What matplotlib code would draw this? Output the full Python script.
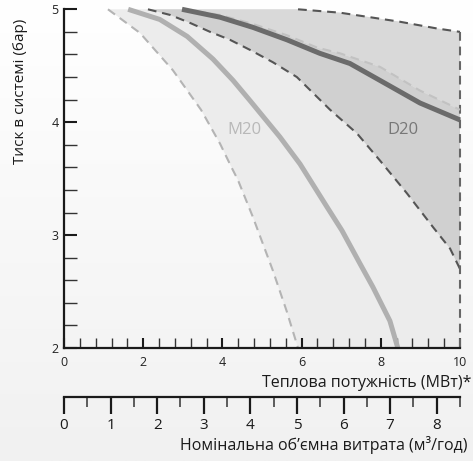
import matplotlib
matplotlib.use("Agg")
import matplotlib.pyplot as plt
import numpy as np
from matplotlib.ticker import MultipleLocator

plt.rcParams['font.family'] = ['Open Sans', 'DejaVu Sans']

# ---- data (x: thermal power MW, y: system pressure bar) ----
m20_min_x = [1.11, 1.92, 2.75, 3.46, 3.94, 4.23, 4.39, 4.77, 5.27, 5.62, 5.91]
m20_min_y = [5.00, 4.79, 4.46, 4.11, 3.81, 3.60, 3.49, 3.16, 2.69, 2.33, 2.00]

m20_x = [1.62, 2.42, 3.11, 3.76, 4.27, 4.70, 5.45, 5.96, 6.64, 7.02, 7.47, 7.80, 8.23, 8.43]
m20_y = [5.00, 4.91, 4.76, 4.56, 4.37, 4.19, 3.87, 3.63, 3.25, 3.04, 2.75, 2.54, 2.24, 2.00]

d20_min_x = [2.12, 2.68, 3.18, 3.69, 4.19, 4.70, 5.28, 5.88, 6.72, 7.40, 7.98,
             8.66, 9.32, 9.75, 10.0]
d20_min_y = [5.00, 4.95, 4.88, 4.80, 4.73, 4.64, 4.53, 4.40, 4.11, 3.90, 3.66,
             3.37, 3.07, 2.88, 2.70]

d20_upper_x = [3.00, 3.94, 4.77, 5.63, 6.40, 6.97, 7.98, 8.99, 10.0]
d20_upper_y = [5.00, 4.95, 4.87, 4.77, 4.66, 4.61, 4.49, 4.28, 4.11]

d20_max_x = [5.91, 6.97, 8.48, 9.42, 10.0]
d20_max_y = [5.00, 4.97, 4.89, 4.83, 4.80]

d20_x = [2.98, 3.94, 4.77, 5.63, 6.46, 7.22, 7.98, 8.99, 10.0]
d20_y = [5.00, 4.93, 4.84, 4.73, 4.61, 4.52, 4.37, 4.17, 4.02]

power_ticks = [0, 2, 4, 6, 8, 10]
flow_ticks = [0, 1, 2, 3, 4, 5, 6, 7, 8]
flow_max = 8.5

W, H = 473, 461
fig = plt.figure(figsize=(W / 100, H / 100), dpi=100)

# background gradient
bg = fig.add_axes([0, 0, 1, 1], zorder=-10)
grad = np.linspace(0, 1, 256).reshape(-1, 1)
bg.imshow(grad, aspect='auto', cmap=matplotlib.colors.LinearSegmentedColormap.from_list(
    'g', ['#ffffff', '#f1f1f1']), extent=[0, 1, 0, 1], origin='upper')
bg.axis('off')

def fx(px):
    return px / W

def fy(py):
    return 1 - py / H

L, R = 64, 460
T, B = 9.3, 348
ax = fig.add_axes([fx(L), fy(B), fx(R) - fx(L), fy(T) - fy(B)])
ax.set_facecolor('none')
ax.set_xlim(0, 10)
ax.set_ylim(2, 5)

# region A (light)
polyA_x = m20_min_x + [10, 10] + d20_max_x[::-1]
polyA_y = m20_min_y + [2, d20_max_y[-1]] + d20_max_y[::-1]
ax.fill(polyA_x, polyA_y, color='#ececec', lw=0, zorder=1)
# region C (upper D20)
polyC_x = d20_upper_x + [10] + d20_max_x[::-1]
polyC_y = d20_upper_y + [d20_max_y[-1]] + d20_max_y[::-1]
ax.fill(polyC_x, polyC_y, color='#d9d9d9', lw=0, zorder=2)
# region B (D20 core)
polyB_x = d20_min_x + [10] + d20_upper_x[::-1]
polyB_y = d20_min_y + [d20_upper_y[-1]] + d20_upper_y[::-1]
ax.fill(polyB_x, polyB_y, color='#d0d0d0', lw=0, zorder=2)

dash = (0, (4.2, 2.8))
ax.plot(m20_min_x, m20_min_y, color='#b4b4b4', lw=1.5, ls=dash, zorder=3, clip_on=False)
ax.plot(d20_min_x, d20_min_y, color='#555555', lw=1.5, ls=dash, zorder=3, clip_on=False)
ax.plot(d20_max_x, d20_max_y, color='#555555', lw=1.5, ls=dash, zorder=3, clip_on=False)
ax.plot([10, 10], [d20_max_y[-1], 2], color='#666666', lw=1.5, ls=dash, zorder=3, clip_on=False)
ax.plot(d20_upper_x, d20_upper_y, color='#c2c2c2', lw=1.5, ls=dash, zorder=4, clip_on=False)

ax.plot(m20_x, m20_y, color='#b0b0b0', lw=3.6, zorder=5, solid_capstyle='butt',
        solid_joinstyle='round', clip_on=False)
ax.plot(d20_x, d20_y, color='#6b6b6b', lw=3.6, zorder=5, solid_capstyle='butt',
        solid_joinstyle='round', clip_on=False)

ax.text(4.55, 3.93, 'M20', color='#b8b8b8', fontsize=12, ha='center', va='center', zorder=6)
ax.text(8.56, 3.93, 'D20', color='#777777', fontsize=12, ha='center', va='center', zorder=6)

for s in ['top', 'right']:
    ax.spines[s].set_visible(False)
for s in ['left', 'bottom']:
    ax.spines[s].set_linewidth(1.6)
    ax.spines[s].set_color('#1a1a1a')
    ax.spines[s].set_zorder(7)

ax.set_xticks(power_ticks)
ax.set_xticklabels([str(t) for t in power_ticks])
ax.xaxis.set_minor_locator(MultipleLocator(0.4))
ax.set_yticks([2, 3, 4, 5])
ax.set_yticklabels(['2', '3', '4', '5'])
ax.yaxis.set_minor_locator(MultipleLocator(0.2))
ax.tick_params(axis='x', which='major', direction='in', length=7, width=1.5,
               color='#1a1a1a', labelsize=9, pad=6, labelcolor='#222222')
ax.tick_params(axis='x', which='minor', direction='in', length=7, width=1.0, color='#333333')
ax.tick_params(axis='y', which='major', direction='in', length=9, width=1.5,
               color='#1a1a1a', labelsize=9, pad=4, labelcolor='#222222')
ax.tick_params(axis='y', which='minor', direction='in', length=9, width=1.0, color='#333333')

# second axis (volumetric flow)
ax2y = 396.7
ax2 = fig.add_axes([fx(L), fy(ax2y), fx(R) - fx(L), 0.0001])
ax2.set_facecolor('none')
ax2.set_xlim(0, flow_max)
ax2.set_yticks([])
for s in ['top', 'right', 'left']:
    ax2.spines[s].set_visible(False)
ax2.spines['bottom'].set_linewidth(1.6)
ax2.spines['bottom'].set_color('#1a1a1a')
ax2.set_xticks(flow_ticks)
ax2.set_xticklabels([str(t) for t in flow_ticks])
ax2.xaxis.set_minor_locator(MultipleLocator(0.5))
ax2.tick_params(axis='x', which='major', direction='out', length=12, width=1.6,
                color='#1a1a1a', labelsize=11, pad=3, labelcolor='#1a1a1a')
ax2.tick_params(axis='x', which='minor', direction='out', length=7, width=1.1, color='#333333')

fig.text(fx(471), fy(387), 'Теплова потужність (МВт)*', ha='right', va='baseline',
         fontsize=11.5, color='#1a1a1a')
fig.text(fx(467), fy(450), 'Номінальна об’ємна витрата (м³/год)', ha='right', va='baseline',
         fontsize=11.5, color='#1a1a1a')
fig.text(fx(20), fy(91), 'Тиск в системі (бар)', rotation=90, ha='center', va='center',
         fontsize=11, color='#1a1a1a')

fig.savefig('out.png', dpi=100)
